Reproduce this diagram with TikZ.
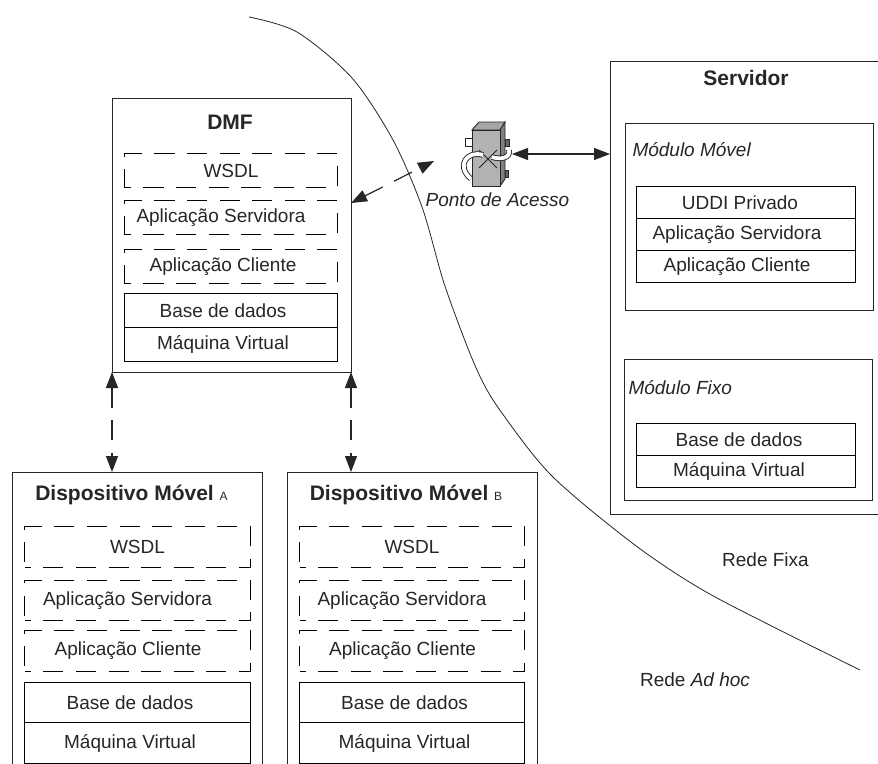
\documentclass[tikz,border=0pt]{standalone}
\usepackage{fontspec}
\setmainfont{Liberation Sans}
\usetikzlibrary{matrix,arrows.meta}
\newcommand{\pad}[1]{\hspace{#1}\null}

\begin{document}
\begin{tikzpicture}[x=1pt,y=-1pt,line width=1pt,color=black!85,
font=\fontsize{19}{21}\selectfont,
panel/.style={draw, minimum width=#1, inner sep=0pt, outer sep=0pt},
stack/.style 2 args={matrix of nodes, inner sep=0pt, row sep=-\pgflinewidth, nodes={draw, anchor=center, minimum width=#1,
    minimum height=#2, inner sep=0pt, outer sep=0pt}},
dashrows/.style={row 1/.style={nodes={dashbox}}, row 2/.style={nodes={dashbox}}, row 3/.style={nodes={dashbox}}},
dashbox/.style={dash pattern=on 20pt off 12.5pt, dash phase=14pt},
titletext/.style={font=\fontsize{21}{23}\selectfont\bfseries},
note/.style={inner sep=0pt},
dasharrow/.style={line width=1.2pt, dash pattern=on 20pt off 12.5pt, {Triangle[length=16pt,width=12pt]}-{Triangle[length=16pt,width=12pt]}},
linkarrow/.style={line width=1.2pt, {Triangle[length=16pt,width=12pt]}-{Triangle[length=16pt,width=12pt]}}]
\path[use as bounding box, clip] (0,0) rectangle (878,763);

% boundary of the two networks
\draw[line width=0.8pt] plot[smooth] coordinates {(249,17) (297,32) (352,78) (393,140) (422,207) (443,280)
  (462,333) (477,370) (493,400) (527,447) (553,477) (593,512) (650,556) (717,598) (860,670)};

% DMF
\node[panel=239pt, minimum height=274pt] (dmf) at (231.5,235) {};
\node[titletext] (dmftitle) at (230,122) {DMF};
\matrix[stack={212pt}{34pt}, dashrows] (dmfstack) at (231,257.5) {
WSDL\\[13pt]
Aplicação Servidora\pad{20pt}\\[15pt]
Aplicação Cliente\pad{16pt}\\[10pt]
Base de dados\pad{16pt}\\
Máquina Virtual\pad{16pt}\\};

% devices
\foreach \devname/\devx in {A/137.5,B/412}{
\node[panel=250pt, minimum height=340pt] (dev\devname) at (\devx,642) {};
\node[titletext] (title\devname) at (\devx-6,495) {Dispositivo Móvel {\fontsize{12}{13}\selectfont\mdseries\devname}};
\matrix[stack={225pt}{40.5pt}, dashrows] (stack\devname) at (\devx,645) {
WSDL\\[13pt]
Aplicação Servidora\pad{20pt}\\[10pt]
Aplicação Cliente\pad{19pt}\\[11pt]
Base de dados\pad{15pt}\\
Máquina Virtual\pad{15pt}\\};
}

% server
\node[panel=300pt, minimum height=453pt] (srv) at (760,287.5) {};
\node[titletext] (srvtitle) at (746,78) {Servidor};
\node[panel=248pt, minimum height=187pt] (movel) at (749,216.5) {};
\node[note, anchor=west] (moveltitle) at (632,150) {\itshape Módulo Móvel};
\matrix[stack={219pt}{32pt}] (movelstack) at (746,234.5) {
UDDI Privado\pad{12pt}\\
Aplicação Servidora\pad{18pt}\\
Aplicação Cliente\pad{18pt}\\};
\node[panel=248pt, minimum height=141pt] (fixo) at (748,429.5) {};
\node[note, anchor=west] (fixotitle) at (628,388) {\itshape Módulo Fixo};
\matrix[stack={219pt}{32pt}] (fixostack) at (746,455.5) {
Base de dados\pad{14pt}\\
Máquina Virtual\pad{14pt}\\};

% access point
\node[inner sep=0pt, outer sep=0pt, minimum width=46pt, minimum height=62pt] (ap) at (489,154) {};
\node[note] (aptitle) at (497.5,200) {\itshape Ponto de Acesso};
\draw[fill=white, line width=0.9pt] (465,138) rectangle (472,146);
\draw[fill=black!60, line width=0.9pt] (505,139) rectangle (509,146);
\draw[fill=black!60, line width=0.9pt] (505,170) rectangle (508,177);
\draw[fill=black!35, line width=0.9pt] (472,130) -- (479,122) -- (505,122) -- (500,130) -- cycle;
\draw[fill=black!50, line width=0.9pt] (500,130) -- (505,122) -- (505,179) -- (500,186) -- cycle;
\draw[fill=black!30, line width=0.9pt] (472,130) rectangle (500,186);
\draw[line width=0.9pt] (479,150) -- (497,168) (497,150) -- (479,168);
\draw[line width=5.6pt] (483,155) .. controls (468,150) and (455,165) .. (471,179);
\draw[white, line width=3.8pt] (483,155) .. controls (468,150) and (455,165) .. (471,179);
\draw[line width=5.6pt] (492,157) .. controls (500,160) and (511,158) .. (509,150);
\draw[white, line width=3.8pt] (492,157) .. controls (500,160) and (511,158) .. (509,150);

% links
\coordinate (dmfport) at (351,203);
\coordinate (apport) at (434,161);
\draw[dasharrow] (dmfport) -- (apport);
\draw[dasharrow] (dmf.south west) -- (dmf.south west |- devA.north);
\draw[dasharrow] (dmf.south east) -- (dmf.south east |- devB.north);
\draw[linkarrow] (ap.east) -- (ap.east -| srv.west);

\node[note] (fixa) at (765.5,560) {Rede Fixa};
\node[note] (adhoc) at (695,680) {Rede \textit{Ad hoc}};
\end{tikzpicture}
\end{document}
